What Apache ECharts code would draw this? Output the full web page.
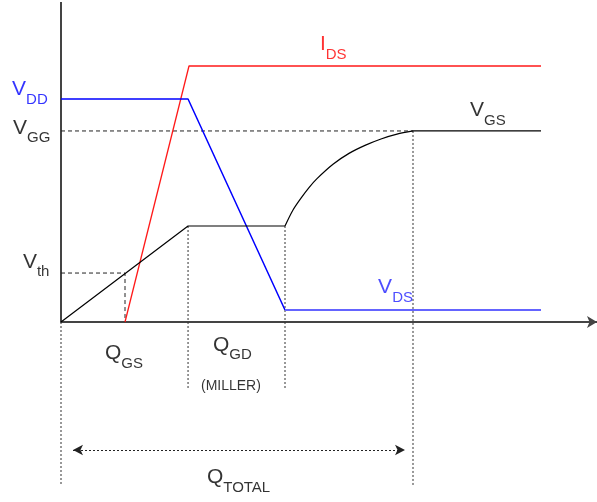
<!DOCTYPE html>
<html><head><meta charset="utf-8">
<script src="https://cdn.jsdelivr.net/npm/echarts@6/dist/echarts.min.js"></script>
<style>html,body{margin:0;padding:0;background:#fff}#c{width:597px;height:502px}</style>
</head><body><div id="c"></div>
<script>
// x: gate charge (arbitrary units), y: voltage / current (arbitrary units)
const vgsRiseX = [0, 3.97, 7];
const vgsRiseY = [0, 3, 3];
const vgsCurveX = [7, 7.25, 7.5, 7.75, 8, 8.5, 9, 9.5, 10, 10.5, 11];
const vgsCurveY = [3, 3.5, 3.87, 4.2, 4.48, 4.93, 5.27, 5.52, 5.72, 5.87, 5.97];
const vgsFlatX = [11, 15];
const vgsFlatY = [5.97, 5.97];
const idsX = [2, 4, 15];
const idsY = [0, 8, 8];
const vddX = [0, 3.97, 7];
const vddY = [6.97, 6.97, 0.375];
const vdsX = [7, 15];
const vdsY = [0.375, 0.375];
const vth = 1.53, qgs = 2;
const vgg = 5.97, qTotal = 11;
const qgdStart = 3.97, qgdEnd = 7, plateau = 3;
const yAxisTop = 10, yMax = 10.0625, yBottom = -5.1, xMax = 16.75;
const millerBottom = -2.06, arrowY = -4, arrowX = [0.375, 10.75];

const zip = (xs, ys) => xs.map((x, i) => [x, ys[i]]);
const FONT = 'Liberation Sans, Arial, sans-serif';

function lineS(data, color, width, type, extra) {
  return Object.assign({
    type: 'line', data: data, symbol: 'none', silent: true, clip: false,
    lineStyle: { color: color, width: width, type: type || 'solid' }
  }, extra || {});
}
function lab(x, y, main, sub, color) {
  return {
    type: 'scatter', symbolSize: 0, silent: true, clip: false, data: [[x, y]],
    label: {
      show: true, position: 'right', distance: 0,
      formatter: () => sub ? `{m|${main}}{s|${sub}}` : `{m|${main}}`,
      rich: {
        m: { fontSize: 21, color: color, fontFamily: FONT },
        s: { fontSize: 15, color: color, fontFamily: FONT, padding: [20, 0, 0, 0] }
      }
    }
  };
}
const dot = [2, 2];
const series = [
  // y axis line
  lineS([[0, 0], [0, yAxisTop]], '#444', 2),
  // dotted guides
  lineS([[0, 0], [0, yBottom]], '#333', 1, dot, {
    markLine: {
      silent: true, symbol: ['arrow', 'arrow'], symbolSize: [8, 10],
      label: { show: false },
      lineStyle: { color: '#222', width: 1, type: dot },
      data: [[{ coord: [arrowX[0], arrowY] }, { coord: [arrowX[1], arrowY] }]]
    }
  }),
  lineS([[qgdStart, plateau], [qgdStart, millerBottom]], '#333', 1, dot),
  lineS([[qgdEnd, plateau], [qgdEnd, millerBottom]], '#333', 1, dot),
  lineS([[qTotal, vgg], [qTotal, yBottom]], '#333', 1, dot),
  // dashed references
  lineS([[0, vgg], [qTotal, vgg]], '#222', 1, [4, 3]),
  lineS([[0, vth], [qgs, vth], [qgs, 0]], '#222', 1, [4, 3]),
  // curves
  lineS(zip(idsX, idsY), '#ff1a1a', 1.3),
  lineS(zip(vddX, vddY), '#0000ff', 1.5),
  lineS(zip(vdsX, vdsY), '#6464ff', 2),
  lineS(zip(vgsRiseX, vgsRiseY), '#000', 1.2),
  lineS(zip(vgsCurveX, vgsCurveY), '#000', 1.2, 'solid', { smooth: 0.3 }),
  lineS(zip(vgsFlatX, vgsFlatY), '#000', 1.2),
  // labels
  lab(-1.53, 7.27, 'V', 'DD', '#0000ff'),
  lab(-1.5, 6.07, 'V', 'GG', '#000'),
  lab(-1.19, 1.88, 'V', 'th', '#000'),
  lab(1.375, -0.99, 'Q', 'GS', '#000'),
  lab(4.75, -0.71, 'Q', 'GD', '#000'),
  lab(4.56, -4.86, 'Q', 'TOTAL', '#000'),
  lab(8.09, 8.67, 'I', 'DS', '#ff0000'),
  lab(12.78, 6.61, 'V', 'GS', '#000'),
  lab(9.91, 1.075, 'V', 'DS', '#2020ff'),
  {
    type: 'scatter', symbolSize: 0, silent: true, clip: false, data: [[4.375, -2.02]],
    label: { show: true, position: 'right', distance: 0, formatter: '(MILLER)',
      fontSize: 14, color: '#000', fontFamily: FONT }
  }
];

const chart = echarts.init(document.getElementById('c'), null, { renderer: 'canvas' });
chart.setOption({
  animation: false,
  backgroundColor: '#fff',
  grid: { left: 61, right: 0, top: 0, bottom: 16.8 },
  xAxis: {
    type: 'value', min: 0, max: xMax,
    axisLine: { show: true, onZero: true, symbol: ['none', 'arrow'], symbolSize: [9, 10],
      lineStyle: { color: '#444', width: 2 } },
    axisTick: { show: false }, axisLabel: { show: false }, splitLine: { show: false }
  },
  yAxis: {
    type: 'value', min: yBottom, max: yMax,
    axisLine: { show: false }, axisTick: { show: false }, axisLabel: { show: false }, splitLine: { show: false }
  },
  series: series
});
</script></body></html>
